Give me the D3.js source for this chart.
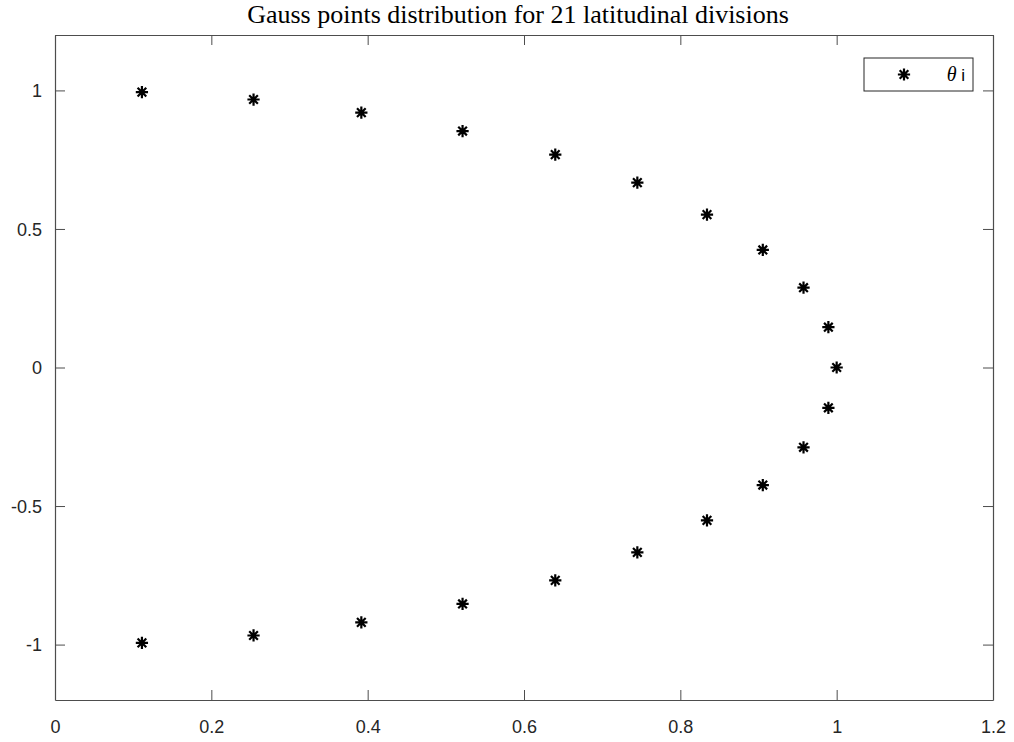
<!DOCTYPE html>
<html>
<head>
<meta charset="utf-8">
<script src="https://cdn.jsdelivr.net/npm/d3@7"></script>
<style>
  body { margin: 0; background: #fff; }
</style>
</head>
<body>
<script>
// Gauss-Legendre nodes (y) and cos-latitude (x)
var pontosY = [0.9938, 0.9672, 0.9200, 0.8533, 0.7684, 0.6671, 0.5516, 0.4243, 0.2880, 0.1455, 0,
  -0.1455, -0.2880, -0.4243, -0.5516, -0.6671, -0.7684, -0.8533, -0.9200, -0.9672, -0.9938];
var pontosX = [0.1112, 0.2540, 0.3919, 0.5214, 0.6400, 0.7450, 0.8341, 0.9055, 0.9576, 0.9894, 1.0,
  0.9894, 0.9576, 0.9055, 0.8341, 0.7450, 0.6400, 0.5214, 0.3919, 0.2540, 0.1112];
var ticksX = [0, 0.2, 0.4, 0.6, 0.8, 1, 1.2];
var ticksY = [-1, -0.5, 0, 0.5, 1];
var titulo = "Gauss points distribution for 21 latitudinal divisions";

var width = 1014;
var height = 742;
var margem = {left: 55, right: 21, top: 35, bottom: 42};
var corEixo = "#4d4d4d";

var svgTag = d3.select("body").append("svg")
	.attr("width", width)
	.attr("height", height);

var xScale = d3.scaleLinear().domain([0, 1.2]).range([margem.left, width - margem.right]);
var yScale = d3.scaleLinear().domain([-1.2, 1.2]).range([height - margem.bottom, margem.top]);

// hífen normal no lugar do sinal de menos do d3
var fmt = function(d) { return String(d); };

// eixos com ticks para dentro, em todos os lados
var eixoBaixo = svgTag.append("g").attr("transform", "translate(0," + yScale.range()[0] + ")")
	.call(d3.axisBottom(xScale).tickValues(ticksX).tickSize(-10).tickSizeOuter(0).tickPadding(20).tickFormat(fmt));
var eixoTopo = svgTag.append("g").attr("transform", "translate(0," + yScale.range()[1] + ")")
	.call(d3.axisTop(xScale).tickValues(ticksX).tickSize(-10).tickSizeOuter(0).tickFormat(""));
var eixoEsq = svgTag.append("g").attr("transform", "translate(" + xScale.range()[0] + ",0)")
	.call(d3.axisLeft(yScale).tickValues(ticksY).tickSize(-10).tickSizeOuter(0).tickPadding(13).tickFormat(fmt));
var eixoDir = svgTag.append("g").attr("transform", "translate(" + xScale.range()[1] + ",0)")
	.call(d3.axisRight(yScale).tickValues(ticksY).tickSize(-10).tickSizeOuter(0).tickFormat(""));

[eixoBaixo, eixoTopo, eixoEsq, eixoDir].forEach(function(g) {
	g.attr("font-family", "Liberation Sans, Arial, sans-serif").attr("font-size", 18);
	g.selectAll("path, line").attr("stroke", corEixo).attr("stroke-width", 1);
	g.select(".domain").attr("stroke-width", 1.2);
	g.selectAll(".tick text").attr("fill", "#262626");
});
eixoBaixo.selectAll(".tick text").attr("dy", "0.71em");
eixoEsq.selectAll(".tick text").attr("dy", "0.35em");

// título
svgTag.append("text")
	.attr("x", 518)
	.attr("y", 23)
	.attr("text-anchor", "middle")
	.attr("font-family", "Liberation Serif, Times New Roman, serif")
	.attr("font-size", 26)
	.attr("fill", "#000")
	.text(titulo);

// marcador '*' estilo matlab: + e x juntos (8 raios)
var estrela8 = {
	draw: function(ctx, size) {
		var r = Math.sqrt(size) / 2;
		var d = r * Math.SQRT1_2;
		ctx.moveTo(-r, 0); ctx.lineTo(r, 0);
		ctx.moveTo(0, -r); ctx.lineTo(0, r);
		ctx.moveTo(-d, -d); ctx.lineTo(d, d);
		ctx.moveTo(-d, d); ctx.lineTo(d, -d);
	}
};
var asterisco = d3.symbol().type(estrela8).size(150);

// pontos
svgTag.append("g").selectAll("path")
	.data(pontosY)
	.enter().append("path")
	.attr("d", asterisco)
	.attr("transform", function(d, i) { return "translate(" + xScale(pontosX[i]) + "," + yScale(d) + ")"; })
	.attr("fill", "none")
	.attr("stroke", "#000")
	.attr("stroke-width", 2.2);

// legenda
var legenda = svgTag.append("g").attr("transform", "translate(864,58)");
legenda.append("rect")
	.attr("width", 109).attr("height", 33)
	.attr("fill", "#fff").attr("stroke", "#262626").attr("stroke-width", 1);
legenda.append("path")
	.attr("d", asterisco)
	.attr("transform", "translate(40,16.5)")
	.attr("fill", "none").attr("stroke", "#000").attr("stroke-width", 2.2);
var textoLeg = legenda.append("text")
	.attr("x", 101).attr("y", 23)
	.attr("text-anchor", "end")
	.attr("font-size", 17)
	.attr("fill", "#000");
textoLeg.append("tspan").attr("font-family", "Liberation Serif, serif").attr("font-style", "italic").attr("font-size", 20).text("\u03b8");
textoLeg.append("tspan").attr("font-family", "Liberation Sans, sans-serif").text(" i");
</script>
</body>
</html>
